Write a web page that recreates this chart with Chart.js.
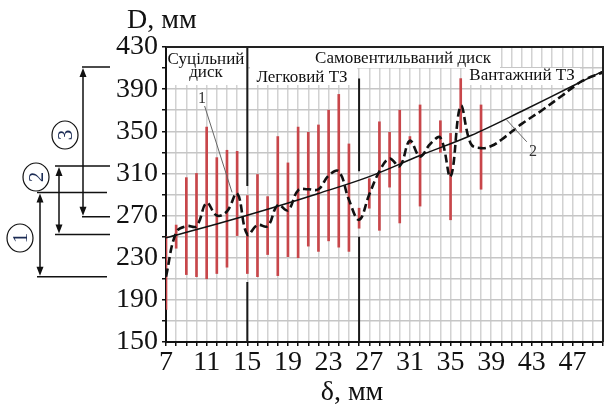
<!DOCTYPE html>
<html>
<head>
<meta charset="utf-8">
<script src="https://cdn.jsdelivr.net/npm/chart.js@4"></script>
<style>
html, body { margin: 0; padding: 0; background: #fff; }
</style>
</head>
<body>
<canvas id="myChart" width="606" height="408"></canvas>
<script>
// measured ranges (red bars)
var barX    = [7, 8, 9, 10, 11, 12, 13, 14, 15, 16, 17, 18, 19, 20, 21, 22, 23, 24, 25, 26, 27, 28, 29, 30, 31, 32, 34, 35, 36, 38];
var barLow  = [181, 239, 214, 212, 210, 215, 221, 251, 215, 212, 233, 213, 231, 230, 241, 236, 246, 240, 236, 258, 277, 256, 297, 263, 338, 279, 330, 266, 349, 295];
var barHigh = [250, 261, 306, 310, 354, 325, 332, 331, 289, 309, 288, 345, 320, 354, 349, 356, 370, 385, 338, 277, 305, 359, 349, 370, 345, 375, 360, 348, 400, 375];

// dashed curve (2)
var curveX = [7, 8, 9, 10, 11, 12, 13, 14, 15, 16, 17, 18, 19, 20, 21, 22, 23, 24, 25, 26, 27, 28, 29, 30, 31, 32, 33, 34, 35, 36, 37, 38, 39, 40, 42, 44, 46, 48, 50];
var curveY = [212, 254, 260, 260, 282, 270, 274, 291, 252, 261, 260, 280, 275, 294, 295, 295, 308, 312, 285, 266, 290, 312, 324, 317, 341, 326, 338, 344, 307, 374, 338, 334, 336, 342, 357, 370, 384, 398, 406];

// solid trend curve (1)
var trendX = [7, 12, 17, 22, 27, 32, 37, 42, 47, 50];
var trendY = [249, 262, 276, 291, 307, 327, 346, 369, 393, 407];

// vertical zone dividers
var dividerX  = [15, 26];
var divLower  = [[150, 207], [150, 250]];
var divUpper  = [[298, 430], [312, 400]];

// bracket ranges on the left
var bracketNames = ['1', '2', '3'];
var bracketRanges = [[212, 292], [252, 317], [269, 411]];

var xLabelStep = 4;
var yLabelStep = 40;

var serif = "'Liberation Serif', 'Times New Roman', serif";

function pts(xs, ys) {
  return xs.map(function(x, i) { return { x: x, y: ys[i] }; });
}

var datasets = [];
datasets.push({
  type: 'bar',
  data: barX.map(function(x, i) { return { x: x, y: [barLow[i], barHigh[i]] }; }),
  backgroundColor: '#c8464a',
  borderWidth: 0,
  barThickness: 2,
  order: 5
});
datasets.push({
  type: 'line',
  data: pts(trendX, trendY),
  borderColor: '#111',
  borderWidth: 1.5,
  pointRadius: 0,
  cubicInterpolationMode: 'monotone',
  order: 2
});
datasets.push({
  type: 'line',
  data: pts(curveX, curveY),
  borderColor: '#111',
  borderWidth: 2.6,
  borderDash: [8, 4],
  pointRadius: 0,
  tension: 0.4,
  order: 1
});
dividerX.forEach(function(x, i) {
  datasets.push({
    type: 'line',
    data: [{ x: x, y: divLower[i][0] }, { x: x, y: divLower[i][1] }, { x: x, y: null },
           { x: x, y: divUpper[i][0] }, { x: x, y: divUpper[i][1] }],
    borderColor: '#1a1a1a',
    borderWidth: 2,
    pointRadius: 0,
    spanGaps: false,
    order: 3
  });
});

var overlay = {
  id: 'overlay',
  beforeDatasetsDraw: function(chart) {
    var ctx = chart.ctx, a = chart.chartArea;
    ctx.save();
    ctx.fillStyle = '#fff';
    ctx.fillRect(a.left + 1, a.top + 1, 80, 37);
    ctx.fillRect(250, a.top + 1, 107, 37);
    ctx.fillRect(303, a.top + 1, 197, 20);
    ctx.fillRect(465, 68, 115, 17);
    ctx.restore();
  },
  afterDatasetsDraw: function(chart) {
    var ctx = chart.ctx, a = chart.chartArea;
    var xs = chart.scales.x, ys = chart.scales.y;
    ctx.save();
    // frame top and right
    ctx.strokeStyle = '#222';
    ctx.lineWidth = 2;
    ctx.beginPath();
    ctx.moveTo(a.left, a.top);
    ctx.lineTo(a.right, a.top);
    ctx.lineTo(a.right, a.bottom);
    ctx.stroke();

    // zone captions
    ctx.fillStyle = '#111';
    ctx.textAlign = 'center';
    ctx.textBaseline = 'middle';
    ctx.font = '17px ' + serif;
    ctx.fillText('Суцільний', 206, 60);
    ctx.fillText('диск', 206, 73);
    ctx.fillText('Легковий ТЗ', 302, 78);
    ctx.fillText('Самовентильваний диск', 403, 59);
    ctx.fillText('Вантажний ТЗ', 522, 76);

    // curve labels with leaders
    ctx.strokeStyle = '#666';
    ctx.lineWidth = 1;
    ctx.beginPath();
    ctx.moveTo(xs.getPixelForValue(10.8), ys.getPixelForValue(374));
    ctx.lineTo(xs.getPixelForValue(13.5), ys.getPixelForValue(292));
    ctx.moveTo(xs.getPixelForValue(40.5), ys.getPixelForValue(361));
    ctx.lineTo(xs.getPixelForValue(42.5), ys.getPixelForValue(340));
    ctx.stroke();
    ctx.fillStyle = '#333';
    ctx.font = '16px ' + serif;
    ctx.fillText('1', xs.getPixelForValue(10.55), ys.getPixelForValue(381));
    ctx.fillText('2', xs.getPixelForValue(43.1), ys.getPixelForValue(331));

    // axis titles
    ctx.fillStyle = '#111';
    ctx.font = '28px ' + serif;
    ctx.textAlign = 'left';
    ctx.textBaseline = 'alphabetic';
    ctx.fillText('D, мм', 127, 28);
    ctx.textAlign = 'center';
    ctx.fillText('δ, мм', 352, 400);

    // brackets on the left
    var geo = [
      { vx: 40, h0: 37, h1: 107, cx: 20, cy: 238 },
      { vx: 59, h0: 55, h1: 110, cx: 36, cy: 177 },
      { vx: 83, h0: 82, h1: 110, cx: 65, cy: 135 }
    ];
    bracketRanges.forEach(function(r, i) {
      var g = geo[i];
      var yTop = ys.getPixelForValue(r[1]), yBot = ys.getPixelForValue(r[0]);
      ctx.strokeStyle = '#111';
      ctx.fillStyle = '#111';
      ctx.lineWidth = 1.5;
      ctx.beginPath();
      ctx.moveTo(g.h0, yTop); ctx.lineTo(g.h1, yTop);
      ctx.moveTo(g.h0, yBot); ctx.lineTo(g.h1, yBot);
      ctx.moveTo(g.vx, yTop + 6); ctx.lineTo(g.vx, yBot - 6);
      ctx.stroke();
      ctx.beginPath();
      ctx.moveTo(g.vx, yTop + 1); ctx.lineTo(g.vx - 3.5, yTop + 10); ctx.lineTo(g.vx + 3.5, yTop + 10); ctx.closePath();
      ctx.moveTo(g.vx, yBot - 1); ctx.lineTo(g.vx - 3.5, yBot - 10); ctx.lineTo(g.vx + 3.5, yBot - 10); ctx.closePath();
      ctx.fill();
      // circled number
      ctx.lineWidth = 1.2;
      ctx.beginPath();
      ctx.ellipse(g.cx, g.cy, 13, 14, 0, 0, Math.PI * 2);
      ctx.fillStyle = '#fff';
      ctx.fill();
      ctx.stroke();
      ctx.save();
      ctx.translate(g.cx, g.cy);
      ctx.rotate(-Math.PI / 2);
      ctx.fillStyle = '#1c2c55';
      ctx.font = '21px ' + serif;
      ctx.textAlign = 'center';
      ctx.textBaseline = 'middle';
      ctx.fillText(bracketNames[i], 0, 1);
      ctx.restore();
    });
    ctx.restore();
  }
};

var ctx = document.getElementById('myChart').getContext('2d');
var chart = new Chart(ctx, {
  type: 'line',
  data: { datasets: datasets },
  options: {
    responsive: false,
    animation: false,
    layout: { padding: { top: 47, right: 3, left: 0, bottom: 0 } },
    plugins: { legend: { display: false }, tooltip: { enabled: false } },
    scales: {
      x: {
        type: 'linear',
        min: 7, max: 50,
        offset: false,
        grid: { color: '#d2d2d2', lineWidth: 1.5, tickColor: '#111', tickLength: 4, offset: false },
        border: { color: '#111', width: 2 },
        ticks: {
          stepSize: 1, autoSkip: false, maxRotation: 0, padding: 0,
          color: '#111',
          font: { family: serif, size: 28 },
          callback: function(v) { return (v - 7) % xLabelStep === 0 ? String(v) : ''; }
        },
        afterFit: function(s) { s.height = 66; }
      },
      y: {
        min: 150, max: 430,
        grid: { color: '#c6c6c6', lineWidth: 1.5, tickColor: '#111', tickLength: 4 },
        border: { color: '#111', width: 2 },
        ticks: {
          stepSize: 20, autoSkip: false, padding: 4,
          color: '#111',
          font: { family: serif, size: 28 },
          callback: function(v) { return (v - 150) % yLabelStep === 0 ? String(v) : ''; }
        },
        afterFit: function(s) { s.width = 166; }
      }
    }
  },
  plugins: [overlay]
});
</script>
</body>
</html>
